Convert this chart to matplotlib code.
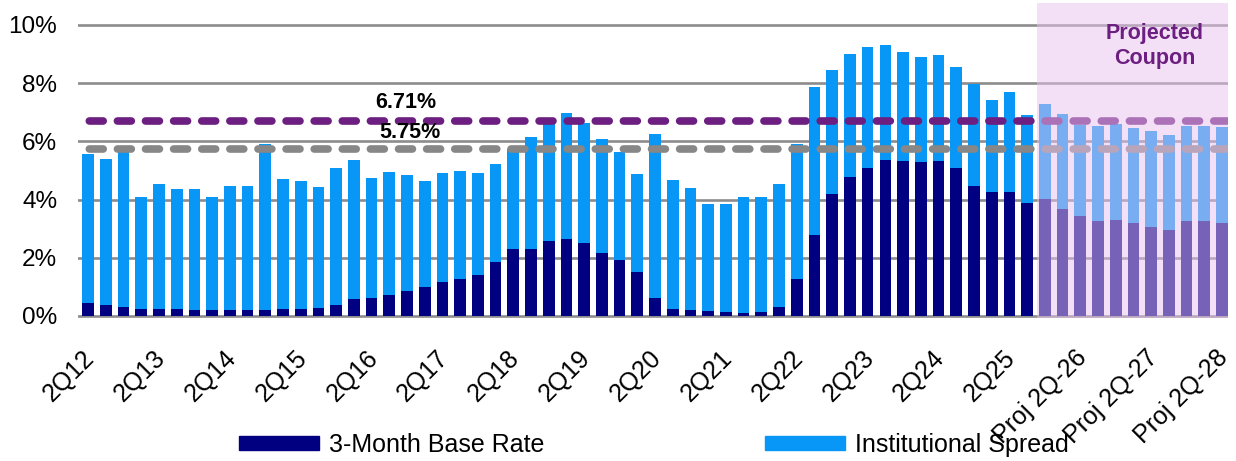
import numpy as np
import matplotlib
matplotlib.use("Agg")
import matplotlib.pyplot as plt
import matplotlib.transforms as mtransforms
from matplotlib.patches import Patch

plt.rcParams['font.family'] = ['Liberation Sans', 'DejaVu Sans']

# ---- data -------------------------------------------------------------
quarters_hist = 54          # 2Q12 .. 3Q25 (actual); remainder projected
base_rate = [0.43, 0.39, 0.30, 0.24, 0.24, 0.23, 0.21, 0.21, 0.21, 0.21,
             0.21, 0.23, 0.24, 0.27, 0.38, 0.58, 0.61, 0.73, 0.87, 1.01,
             1.17, 1.28, 1.42, 1.86, 2.31, 2.30, 2.57, 2.65, 2.49, 2.16,
             1.91, 1.52, 0.63, 0.23, 0.21, 0.16, 0.13, 0.09, 0.13, 0.32,
             1.28, 2.77, 4.18, 4.76, 5.08, 5.34, 5.31, 5.30, 5.31, 5.07,
             4.47, 4.27, 4.27, 3.88,
             4.02, 3.67, 3.42, 3.25, 3.30, 3.18, 3.07, 2.96, 3.26, 3.25, 3.20]
inst_spread = [5.13, 5.00, 5.38, 3.83, 4.29, 4.12, 4.15, 3.87, 4.24, 4.26,
               5.69, 4.48, 4.41, 4.17, 4.71, 4.79, 4.14, 4.20, 3.97, 3.61,
               3.73, 3.69, 3.48, 3.35, 3.42, 3.86, 4.03, 4.31, 4.15, 3.93,
               3.73, 3.34, 5.63, 4.45, 4.20, 3.70, 3.73, 3.98, 3.94, 4.20,
               4.62, 5.10, 4.26, 4.23, 4.16, 3.96, 3.75, 3.59, 3.64, 3.47,
               3.50, 3.14, 3.44, 3.03,
               3.27, 3.26, 3.14, 3.27, 3.28, 3.28, 3.28, 3.26, 3.28, 3.27, 3.29]
tick_labels = ['2Q12', '2Q13', '2Q14', '2Q15', '2Q16', '2Q17', '2Q18', '2Q19',
               '2Q20', '2Q21', '2Q22', '2Q23', '2Q24', '2Q25',
               'Proj 2Q-26', 'Proj 2Q-27', 'Proj 2Q-28']
ref_high = 6.71
ref_low = 5.75
y_ticks = [0, 2, 4, 6, 8, 10]

# ---- styling -----------------------------------------------------------
c_base = '#000080'
c_spread = '#0897F6'
c_purple = '#6C1F80'
c_grey_dash = '#878787'
c_grid = '#8C8C8C'

W, H = 1236, 461
fig = plt.figure(figsize=(W / 100, H / 100), dpi=100)
ax = fig.add_axes([78 / W, 1 - 318 / H, (1228 - 78) / W, (318 - 3) / H])


def fpos(px, py):
    return px / W, 1 - py / H


x = np.arange(len(base_rate))
ax.bar(x, base_rate, width=0.66, color=c_base, zorder=3)
ax.bar(x, inst_spread, width=0.66, bottom=base_rate, color=c_spread, zorder=3)

for yv in y_ticks:
    ax.axhline(yv, color=c_grid, lw=1.9, zorder=1)

ax.axhline(ref_high, color=c_purple, lw=5.5, ls=(2.2, (1.82, 1.86)),
           dash_capstyle='round', zorder=4)
ax.axhline(ref_low, color=c_grey_dash, lw=5.5, ls=(2.2, (1.82, 1.86)),
           dash_capstyle='round', zorder=4)

fig.text(*fpos(375, 102), f'{ref_high:.2f}%', fontsize=15.5,
         fontweight='bold', ha='left', va='center', zorder=5)
fig.text(*fpos(379, 133), f'{ref_low:.2f}%', fontsize=15.5,
         fontweight='bold', ha='left', va='center', zorder=5)

ax.set_xlim(-0.57, len(base_rate) - 1 + 0.34)
ax.set_ylim(-0.07, 10.75)

# projected shading (overlays bars and lines)
ax.axvspan(quarters_hist - 0.45, len(base_rate) - 1 + 0.34, ymin=0, ymax=1,
           color='#E8C3EF', alpha=0.51, lw=0, zorder=6)
fig.text(*fpos(1155, 46), 'Projected\nCoupon', fontsize=15.5,
         fontweight='bold', color=c_purple, ha='center', va='center',
         linespacing=1.25, zorder=7)

for s in ax.spines.values():
    s.set_visible(False)

ax.set_yticks(y_ticks)
ax.set_yticklabels([f'{v}%' for v in y_ticks])
ax.tick_params(axis='y', length=0, pad=15, labelsize=17.5)
ax.set_xticks(x[::4])
ax.set_xticklabels(tick_labels)
ax.tick_params(axis='x', length=0, pad=20, labelsize=18)
shift = mtransforms.ScaledTranslation(-6 / 100, 0, fig.dpi_scale_trans)
for lab in ax.get_xticklabels():
    lab.set_rotation(45)
    lab.set_ha('right')
    lab.set_va('top')
    lab.set_rotation_mode('anchor')
    lab.set_transform(lab.get_transform() + shift)

handles = [Patch(color=c_base, label='3-Month Base Rate'),
           Patch(color=c_spread, label='Institutional Spread')]
fig.legend(handles=handles, loc='center', bbox_to_anchor=(0.529, 0.035),
           ncol=2, frameon=False, fontsize=18, handlelength=3.2,
           handleheight=0.45, handletextpad=0.4, columnspacing=8.8)

fig.savefig('out.png', dpi=100)
